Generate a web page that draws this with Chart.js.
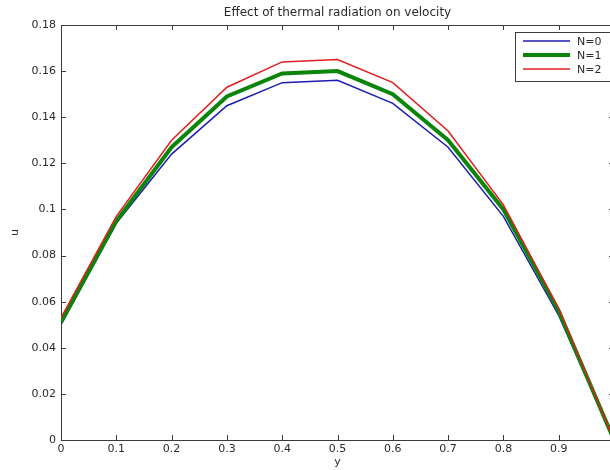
<!DOCTYPE html>
<html>
<head>
<meta charset="utf-8">
<script src="https://cdn.jsdelivr.net/npm/chart.js@4/dist/chart.umd.min.js"></script>
<style>
  body { margin: 0; background: #fff; overflow: hidden; }
  #wrap { width: 610px; height: 470px; overflow: hidden; }
</style>
</head>
<body>
<div id="wrap"><canvas id="c" width="640" height="470"></canvas></div>
<script>
// y 좌표 (가로축)
let yPos = [0, 0.1, 0.2, 0.3, 0.4, 0.5, 0.6, 0.7, 0.8, 0.9, 1.0];
// 속도 u, N 값별
let uN0 = [0.050, 0.094, 0.124, 0.145, 0.155, 0.156, 0.146, 0.127, 0.097, 0.054, 0.0];
let uN1 = [0.051, 0.095, 0.127, 0.149, 0.159, 0.160, 0.150, 0.130, 0.100, 0.056, 0.0];
let uN2 = [0.053, 0.097, 0.130, 0.153, 0.164, 0.165, 0.155, 0.134, 0.102, 0.057, 0.0];
let seriesNm = ['N=0', 'N=1', 'N=2'];
let titleStr = 'Effect of thermal radiation on velocity';

const FONT = '"DejaVu Sans", sans-serif';
const TXT = '#2a2a2a';
const AX = '#3a3a3a';

function pts(vals) {
  return vals.map((v, i) => ({ x: yPos[i], y: v }));
}

// matlab 스타일 테두리 + 안쪽 눈금
const frame = {
  id: 'frame',
  beforeDatasetsDraw(chart) {
    const ctx = chart.ctx, a = chart.chartArea;
    const xs = chart.scales.x, ys = chart.scales.y;
    ctx.save();
    ctx.strokeStyle = AX;
    ctx.lineWidth = 1;
    ctx.beginPath();
    ctx.rect(Math.round(a.left) + 0.5, Math.round(a.top) + 0.5,
             Math.round(a.right - a.left), Math.round(a.bottom - a.top));
    ctx.stroke();
    ctx.beginPath();
    xs.ticks.forEach(t => {
      const px = Math.round(xs.getPixelForValue(t.value)) + 0.5;
      ctx.moveTo(px, a.bottom); ctx.lineTo(px, a.bottom - 5);
      ctx.moveTo(px, a.top); ctx.lineTo(px, a.top + 5);
    });
    ys.ticks.forEach(t => {
      const py = Math.round(ys.getPixelForValue(t.value)) + 0.5;
      ctx.moveTo(a.left, py); ctx.lineTo(a.left + 5, py);
      ctx.moveTo(a.right, py); ctx.lineTo(a.right - 5, py);
    });
    ctx.stroke();
    ctx.restore();
  },
  afterDraw(chart) {
    const ctx = chart.ctx, a = chart.chartArea;
    ctx.save();
    // 제목
    ctx.fillStyle = TXT;
    ctx.font = '12px ' + FONT;
    ctx.textAlign = 'center';
    ctx.textBaseline = 'middle';
    ctx.fillText(titleStr, (a.left + a.right) / 2, 13);
    // 범례
    const bx = 515.5, by = 32.5, bw = 95, bh = 49;
    ctx.fillStyle = '#fff';
    ctx.fillRect(bx, by, bw, bh);
    ctx.strokeStyle = AX;
    ctx.lineWidth = 1;
    ctx.strokeRect(bx, by, bw, bh);
    ctx.textAlign = 'left';
    ctx.font = '11px ' + FONT;
    chart.data.datasets.forEach((ds, i) => {
      const ly = 41 + i * 14;
      ctx.strokeStyle = ds.borderColor;
      ctx.lineWidth = ds.borderWidth;
      ctx.beginPath();
      ctx.moveTo(523, ly); ctx.lineTo(570, ly);
      ctx.stroke();
      ctx.fillStyle = TXT;
      ctx.fillText(ds.label, 577, ly + 1);
    });
    ctx.restore();
  }
};

new Chart(document.getElementById('c').getContext('2d'), {
  type: 'line',
  data: {
    datasets: [
      { label: seriesNm[0], data: pts(uN0), borderColor: '#1c1cb0', borderWidth: 1.5, order: 2 },
      { label: seriesNm[1], data: pts(uN1), borderColor: '#0a850a', borderWidth: 4, order: 1 },
      { label: seriesNm[2], data: pts(uN2), borderColor: '#e01e1e', borderWidth: 1.5, order: 0 }
    ]
  },
  plugins: [frame],
  options: {
    responsive: false,
    animation: false,
    devicePixelRatio: 1,
    layout: { padding: { left: 0, top: 25, right: 26, bottom: 0 } },
    elements: { point: { radius: 0 }, line: { tension: 0 } },
    plugins: { legend: { display: false }, tooltip: { enabled: false }, title: { display: false } },
    scales: {
      x: {
        type: 'linear', min: 0, max: 1,
        afterFit: s => { s.height = 30; },
        grid: { display: false, drawTicks: false },
        border: { display: false },
        ticks: {
          stepSize: 0.1, padding: 3, color: TXT, maxRotation: 0,
          font: { family: FONT, size: 11 },
          callback: v => String(Number(v.toFixed(1)))
        },
        title: { display: true, text: 'y', color: TXT, font: { family: FONT, size: 11 }, padding: { top: 0, bottom: 1 } }
      },
      y: {
        min: 0, max: 0.18,
        afterFit: s => { s.width = 61; },
        grid: { display: false, drawTicks: false },
        border: { display: false },
        ticks: {
          stepSize: 0.02, padding: 5, color: TXT,
          font: { family: FONT, size: 11 },
          callback: v => String(Number(v.toFixed(2)))
        },
        title: { display: true, text: 'u', color: TXT, font: { family: FONT, size: 11 }, padding: { top: 9, bottom: 0 } }
      }
    }
  }
});
</script>
</body>
</html>
